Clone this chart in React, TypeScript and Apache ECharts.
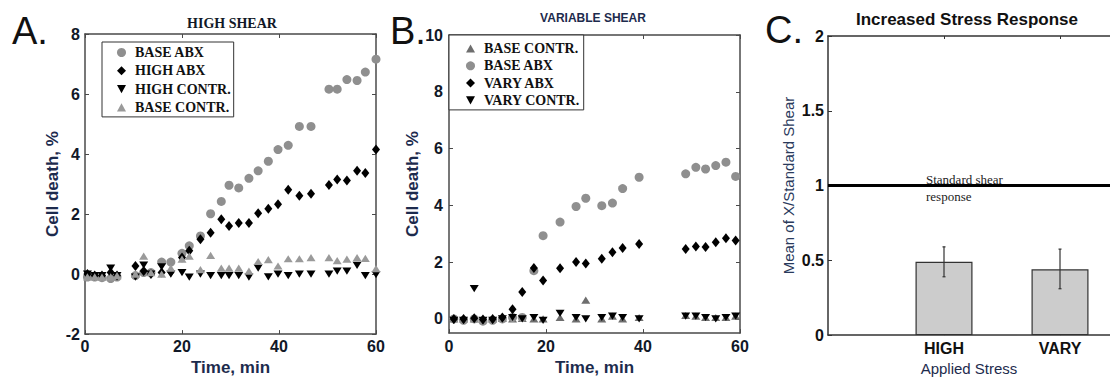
import React, { useEffect, useRef } from "react";
import * as echarts from "echarts";

const SANS = '"Liberation Sans", Arial, sans-serif';
const SERIF = '"Liberation Serif", "Times New Roman", serif';

// ---------- Panel A (HIGH SHEAR) ----------
const A_T = [0.5, 2, 3.5, 5.3, 6.6, 10.4, 12.1, 13.6, 15.8, 17.7, 20, 21.5, 23.8, 25.9, 28.1, 29.7, 31.7, 33.8, 35.7, 37.8, 39.8, 41.9, 44.2, 46.6, 50.3, 52, 54, 56.1, 57.8, 60];
const A_BASE_ABX = [-0.1, -0.1, -0.12, -0.15, -0.1, -0.05, 0.05, 0.05, 0.4, 0.4, 0.69, 0.94, 1.27, 2.01, 2.42, 2.96, 2.87, 3.19, 3.44, 3.76, 4.15, 4.29, 4.92, 4.92, 6.16, 6.16, 6.48, 6.45, 6.73, 7.16];
const A_HIGH_ABX = [0, -0.05, -0.05, 0.05, -0.05, 0.27, 0.1, 0, 0.05, 0.08, 0.55, 0.78, 1.16, 1.38, 1.83, 1.6, 1.7, 1.7, 2.03, 2.18, 2.33, 2.81, 2.61, 2.68, 2.97, 3.15, 3.12, 3.44, 3.37, 4.15];
const A_HIGH_CONTR = [0, -0.05, -0.05, 0.2, -0.05, -0.1, 0.3, 0, 0.24, 0, 0.05, -0.1, 0, -0.05, -0.05, -0.05, -0.05, -0.1, 0.2, -0.09, 0, -0.05, 0, 0, 0, 0.1, 0.1, 0.29, -0.05, -0.02];
const A_BASE_CONTR = [-0.09, -0.09, -0.1, -0.09, -0.05, 0, 0.6, 0.05, 0, 0.2, 0.5, 0.6, 0.15, 0.62, 0.2, 0.2, 0.2, 0.1, 0.42, 0.48, 0.27, 0.51, 0.51, 0.55, 0.55, 0.45, 0.5, 0.55, 0.52, 0.18];

// ---------- Panel B (VARIABLE SHEAR) ----------
const B_T = [1, 3, 5.2, 7, 9, 11, 13.1, 15.1, 17.5, 19.4, 22.9, 26.2, 28.2, 31.5, 33.7, 35.8, 39.2, 48.8, 50.9, 52.9, 55, 57.1, 59.1];
const B_BASE_CONTR = [0, 0, 0, 0, 0, 0.02, 0, 0.02, 0, 0, 0.05, 0, 0.66, 0, 0.1, 0, 0.05, 0.12, 0.1, 0.05, 0.05, 0.05, 0.1];
const B_BASE_ABX = [0, -0.05, 0, -0.08, -0.05, 0, 0.05, 0.05, 1.7, 2.93, 3.41, 3.96, 4.25, 3.99, 4.08, 4.59, 4.99, 5.11, 5.34, 5.28, 5.4, 5.52, 5.02];
const B_VARY_ABX = [0, 0, 0.02, -0.02, 0, 0.05, 0.34, 0.95, 1.79, 1.35, 1.78, 2.0, 1.95, 2.12, 2.35, 2.5, 2.64, 2.46, 2.55, 2.53, 2.7, 2.84, 2.76];
const B_VARY_CONTR = [-0.05, -0.05, 1.07, -0.05, -0.05, 0, 0.05, 0, 0.05, -0.05, 0.2, 0.05, 0, 0.05, 0.1, 0.05, 0, 0.1, 0.1, 0.05, 0, 0.05, 0.1];

// ---------- Panel C (Increased Stress Response) ----------
const C_CATS = ["HIGH", "VARY"];
const C_POS = [1, 2];
const C_MEAN = [0.49, 0.44];
const C_ERR_LO = [0.39, 0.31];
const C_ERR_HI = [0.59, 0.575];
const STANDARD = 1;

const B_YTICKS = [0, 2, 4, 6, 8, 10];

const DOWN_TRI = "path://M0,0L10,0L5,9Z";
const UP_TRI = "path://M5,0L10,9L0,9Z";

function pairs(ts: number[], vs: number[]) {
  return ts.map((t, i) => [t, vs[i]]);
}

function scatter(name: string, ts: number[], vs: number[], symbol: string, color: string, size: any, axis: number) {
  return {
    name,
    type: "scatter",
    xAxisIndex: axis,
    yAxisIndex: axis,
    data: pairs(ts, vs),
    symbol,
    symbolSize: size,
    symbolKeepAspect: true,
    itemStyle: { color, opacity: 1 },
    silent: true,
  };
}

const FRAME = { show: true, onZero: false, lineStyle: { color: "#4a4a4a", width: 1.5 } };
const TICK_IN = { show: true, inside: true, length: 4, lineStyle: { color: "#4a4a4a" } };
const TICKLABEL = { fontFamily: SANS, fontWeight: "bold", fontSize: 16, color: "#111827" };
const NAMESTYLE = { fontFamily: SANS, fontWeight: "bold", fontSize: 17, color: "#1d2b4d" };

function hiddenAxis(extra: any) {
  return Object.assign(
    {
      type: "value",
      axisLine: FRAME,
      axisTick: TICK_IN,
      axisLabel: { show: false },
      splitLine: { show: false },
    },
    extra
  );
}

export default function App() {
  const ref = useRef<HTMLDivElement>(null);

  useEffect(() => {
    if (!ref.current) return;
    const chart = echarts.init(ref.current, null, { renderer: "svg" });

    const legendText = { fontFamily: SERIF, fontWeight: "bold", fontSize: 14, color: "#111", lineHeight: 15, padding: [0, 0, 0, 4] };

    const option: any = {
      animation: false,
      backgroundColor: "#ffffff",
      grid: [
        { left: 85, top: 34, width: 291, height: 308 },
        { left: 449, top: 35, width: 291, height: 306 },
        { left: 828, top: 36, right: 0, height: 306 },
      ],
      xAxis: [
        {
          gridIndex: 0, type: "value", min: 0, max: 60, interval: 20,
          axisLine: FRAME, axisTick: TICK_IN,
          axisLabel: Object.assign({ margin: 4 }, TICKLABEL),
          splitLine: { show: false },
          name: "Time, min", nameLocation: "middle", nameGap: 10, nameTextStyle: NAMESTYLE,
        },
        hiddenAxis({ gridIndex: 0, position: "top", min: 0, max: 60, interval: 20 }),
        {
          gridIndex: 1, type: "value", min: 0, max: 60, interval: 20,
          axisLine: FRAME, axisTick: TICK_IN,
          axisLabel: Object.assign({ margin: 5 }, TICKLABEL),
          splitLine: { show: false },
          name: "Time, min", nameLocation: "middle", nameGap: 10, nameTextStyle: NAMESTYLE,
        },
        hiddenAxis({ gridIndex: 1, position: "top", min: 0, max: 60, interval: 20 }),
        {
          gridIndex: 2, type: "value", min: 0, max: 2.431,
          axisLine: { show: true, onZero: false, lineStyle: { color: "#333", width: 1.5 } },
          axisTick: { show: true, inside: true, length: 4, customValues: C_POS, lineStyle: { color: "#333" } },
          axisLabel: {
            customValues: C_POS, margin: 5, fontFamily: SANS, fontWeight: "bold", fontSize: 16, color: "#111",
            formatter: (v: number) => C_CATS[Math.round(v) - 1] || "",
          },
          splitLine: { show: false },
          name: "Applied Stress", nameLocation: "middle", nameGap: 20,
          nameTextStyle: { fontFamily: SANS, fontSize: 15, color: "#1d2b4d" },
        },
        {
          gridIndex: 2, type: "value", position: "top", min: 0, max: 2.431,
          axisLine: { show: true, onZero: false, lineStyle: { color: "#333", width: 1.5 } },
          axisTick: { show: true, inside: true, length: 3, customValues: C_POS, lineStyle: { color: "#333" } },
          axisLabel: { show: false },
          splitLine: { show: false },
        },
      ],
      yAxis: [
        {
          gridIndex: 0, type: "value", min: -2, max: 8, interval: 2,
          axisLine: FRAME, axisTick: TICK_IN,
          axisLabel: Object.assign({ margin: 5 }, TICKLABEL),
          splitLine: { show: false },
          name: "Cell death, %", nameLocation: "middle", nameGap: 24, nameTextStyle: NAMESTYLE,
        },
        hiddenAxis({ gridIndex: 0, position: "right", min: -2, max: 8, interval: 2 }),
        {
          gridIndex: 1, type: "value", min: -0.5, max: 10,
          axisLine: FRAME,
          axisTick: Object.assign({ customValues: B_YTICKS }, TICK_IN),
          axisLabel: Object.assign({ margin: 6, customValues: B_YTICKS }, TICKLABEL),
          splitLine: { show: false },
          name: "Cell death, %", nameLocation: "middle", nameGap: 26, nameTextStyle: NAMESTYLE,
        },
        hiddenAxis({ gridIndex: 1, position: "right", min: -0.5, max: 10, axisTick: Object.assign({ customValues: B_YTICKS }, TICK_IN) }),
        {
          gridIndex: 2, type: "value", min: 0, max: 2, interval: 0.5,
          axisLine: { show: true, onZero: false, lineStyle: { color: "#333", width: 1.5 } },
          axisTick: { show: true, inside: true, length: 4, lineStyle: { color: "#333" } },
          axisLabel: { margin: 4, fontFamily: SANS, fontWeight: "bold", fontSize: 16, color: "#111" },
          splitLine: { show: false },
          name: "Mean of X/Standard Shear", nameLocation: "middle", nameGap: 32,
          nameTextStyle: { fontFamily: SANS, fontSize: 15, color: "#2a3a5c" },
        },
      ],
      legend: [
        {
          orient: "vertical", left: 102, top: 42, selectedMode: false,
          data: ["A|BASE ABX", "A|HIGH ABX", "A|HIGH CONTR.", "A|BASE CONTR."],
          formatter: (n: string) => n.split("|")[1],
          borderColor: "#333", borderWidth: 1, backgroundColor: "#fff",
          padding: [3, 3, 2, 15], itemGap: 3.3, itemWidth: 9, itemHeight: 9,
          textStyle: legendText,
        },
        {
          orient: "vertical", left: 449, top: 35, selectedMode: false,
          data: ["B|BASE CONTR.", "B|BASE ABX", "B|VARY ABX", "B|VARY CONTR."],
          formatter: (n: string) => n.split("|")[1],
          borderColor: "#333", borderWidth: 1, backgroundColor: "#fff",
          padding: [6, 4, 2, 17], itemGap: 2.3, itemWidth: 9, itemHeight: 9,
          textStyle: legendText,
        },
      ],
      series: [
        scatter("A|BASE ABX", A_T, A_BASE_ABX, "circle", "#8f8f8f", 9, 0),
        scatter("A|HIGH ABX", A_T, A_HIGH_ABX, "diamond", "#000", [8, 10], 0),
        scatter("A|HIGH CONTR.", A_T, A_HIGH_CONTR, DOWN_TRI, "#000", [9, 8], 0),
        scatter("A|BASE CONTR.", A_T, A_BASE_CONTR, UP_TRI, "#9a9a9a", [9, 8], 0),
        Object.assign(scatter("B|BASE CONTR.", B_T, B_BASE_CONTR, UP_TRI, "#6e6e6e", [9, 8], 0), { xAxisIndex: 2, yAxisIndex: 2 }),
        Object.assign(scatter("B|BASE ABX", B_T, B_BASE_ABX, "circle", "#8f8f8f", 9, 0), { xAxisIndex: 2, yAxisIndex: 2 }),
        Object.assign(scatter("B|VARY ABX", B_T, B_VARY_ABX, "diamond", "#000", [8, 10], 0), { xAxisIndex: 2, yAxisIndex: 2 }),
        Object.assign(scatter("B|VARY CONTR.", B_T, B_VARY_CONTR, DOWN_TRI, "#000", [9, 8], 0), { xAxisIndex: 2, yAxisIndex: 2 }),
        {
          name: "C|mean", type: "bar", xAxisIndex: 4, yAxisIndex: 4,
          data: C_POS.map((p, i) => [p, C_MEAN[i]]),
          barWidth: 57,
          itemStyle: { color: "#cccccc", borderColor: "#333", borderWidth: 1.2 },
          silent: true,
          markLine: {
            silent: true, symbol: "none", label: { show: false },
            lineStyle: { color: "#000", width: 3, type: "solid" },
            data: [{ yAxis: STANDARD }],
          },
        },
        {
          name: "C|err", type: "custom", xAxisIndex: 4, yAxisIndex: 4,
          data: C_POS.map((p, i) => [p, C_ERR_LO[i], C_ERR_HI[i]]),
          encode: { x: 0, y: [1, 2] },
          silent: true,
          z: 5,
          renderItem: (params: any, api: any) => {
            const x = api.value(0);
            const lo = api.coord([x, api.value(1)]);
            const hi = api.coord([x, api.value(2)]);
            const st = { stroke: "#333", lineWidth: 1.2 };
            return {
              type: "group",
              children: [
                { type: "line", shape: { x1: lo[0], y1: lo[1], x2: hi[0], y2: hi[1] }, style: st },
                { type: "line", shape: { x1: lo[0] - 1.5, y1: lo[1], x2: lo[0] + 1.5, y2: lo[1] }, style: st },
                { type: "line", shape: { x1: hi[0] - 1.5, y1: hi[1], x2: hi[0] + 1.5, y2: hi[1] }, style: st },
              ],
            };
          },
        },
      ],
      graphic: [
        { type: "text", x: 12, y: 31, style: { text: "A.", font: `38px ${SANS}`, fill: "#111", textVerticalAlign: "middle", verticalAlign: "middle" } },
        { type: "text", x: 390, y: 31, style: { text: "B.", font: `38px ${SANS}`, fill: "#111", textVerticalAlign: "middle", verticalAlign: "middle" } },
        { type: "text", x: 765, y: 30, style: { text: "C.", font: `38px ${SANS}`, fill: "#111", textVerticalAlign: "middle", verticalAlign: "middle" } },
        { type: "text", x: 232, y: 23, style: { text: "HIGH SHEAR", font: `bold 14px ${SERIF}`, fill: "#111827", textAlign: "center", align: "center", textVerticalAlign: "middle", verticalAlign: "middle" } },
        { type: "text", x: 593, y: 18, style: { text: "VARIABLE SHEAR", font: `bold 12px ${SANS}`, fill: "#1d2b4d", textAlign: "center", align: "center", textVerticalAlign: "middle", verticalAlign: "middle" } },
        { type: "text", x: 967, y: 19, style: { text: "Increased Stress Response", font: `bold 17px ${SANS}`, fill: "#111", textAlign: "center", align: "center", textVerticalAlign: "middle", verticalAlign: "middle" } },
        { type: "text", x: 926, y: 171, style: { text: "Standard shear\nresponse", font: `13px ${SERIF}`, lineHeight: 17, fill: "#222" } },
      ],
    };

    chart.setOption(option);
    return () => chart.dispose();
  }, []);

  return (
    <div
      ref={ref}
      style={{ position: "fixed", left: 0, top: 0, width: 1110, height: 381, background: "#fff" }}
    />
  );
}
